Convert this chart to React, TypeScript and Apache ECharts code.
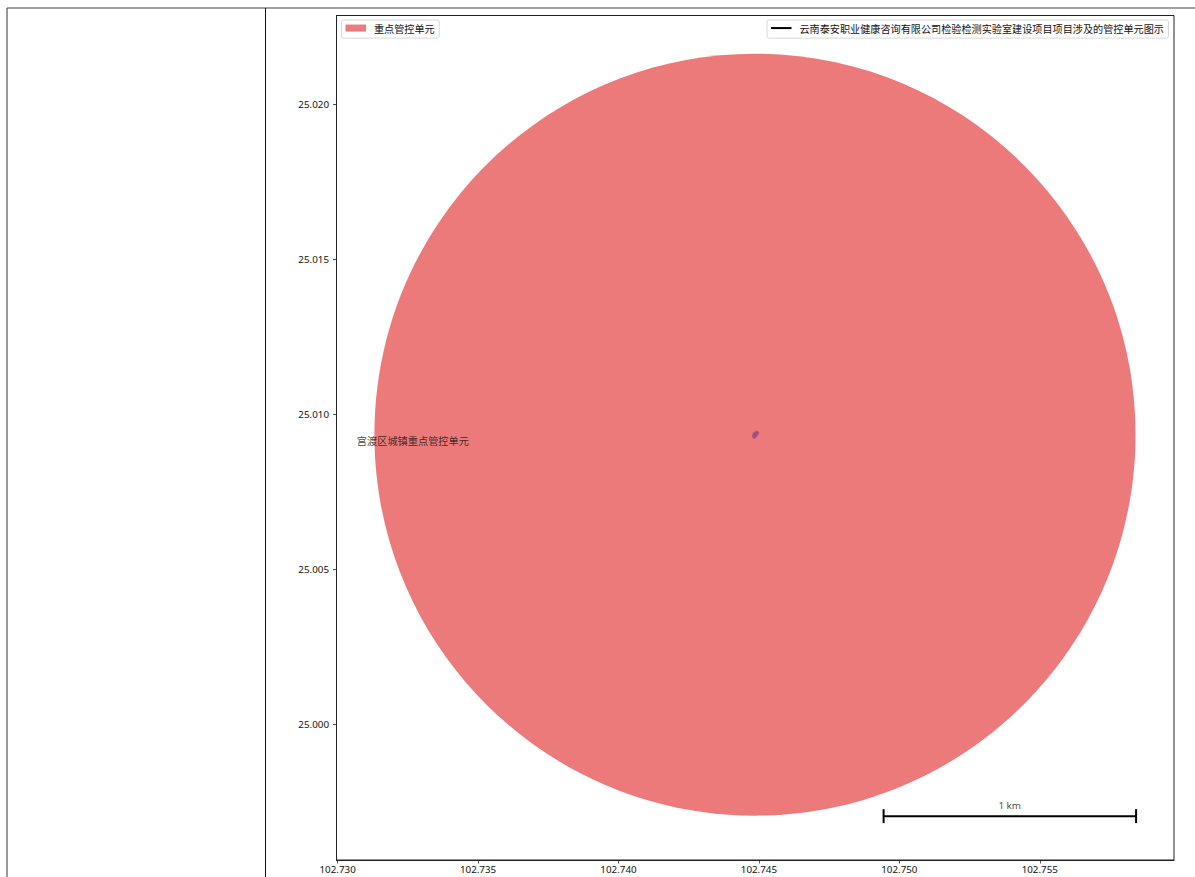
import React, { useEffect, useRef } from "react";
import * as echarts from "echarts";

const FONT = '"Noto Sans CJK SC", "Noto Sans", sans-serif';
const NUM_FONT = '"Noto Sans", "Noto Sans CJK SC", sans-serif';

const lonTicks = [102.73, 102.735, 102.74, 102.745, 102.75, 102.755];
const latTicks = [25.0, 25.005, 25.01, 25.015, 25.02];
const lonRange = [102.72996, 102.75978];
const latRange = [24.99563, 25.02287];

const unitName = "重点管控单元";
const projectName = "云南泰安职业健康咨询有限公司检验检测实验室建设项目项目涉及的管控单元图示";
const unitLabel = "宫渡区城镇重点管控单元";
const scaleLabel = "1 km";

// centre lon, centre lat, lon radius, lat radius
const unitCircle = [[102.74486, 25.00935, 0.01355, 0.01229]];
const projectOutline = [
  [102.744765, 25.00928],
  [102.744801, 25.009409],
  [102.744922, 25.009464],
  [102.745003, 25.009422],
  [102.744943, 25.009312],
  [102.744836, 25.009215],
];
const unitLabelPoint = [[102.73268, 25.00917]];
// x1, y1, x2, y2
const scaleBarSegments = [
  [102.74944, 24.99704, 102.75843, 24.99704],
  [102.74944, 24.99682, 102.74944, 24.99727],
  [102.75843, 24.99682, 102.75843, 24.99727],
];
const scaleLabelPoint = [[102.75393, 24.9974]];

const UNIT_COLOR = "#ec7a7a";
const AXIS_COLOR = "#222";
const TEXT_COLOR = "#111";

export default function App() {
  const ref = useRef<HTMLDivElement>(null);
  useEffect(() => {
    document.body.style.margin = "0";
    const chart = echarts.init(ref.current!, undefined, { renderer: "svg" });
    const legendBase = {
      top: 20,
      orient: "horizontal",
      padding: [3, 4.5, 5, 4],
      backgroundColor: "#fff",
      borderColor: "#d8d8d8",
      borderWidth: 1,
      borderRadius: 2,
      itemWidth: 20.5,
      selectedMode: false,
      textStyle: { fontFamily: FONT, fontSize: 10.15, color: TEXT_COLOR, padding: [0, 0, 3, 3] },
    };
    chart.setOption({
      animation: false,
      backgroundColor: "#fff",
      grid: {
        show: true,
        left: 336.5,
        top: 15.5,
        width: 837.5,
        height: 844.5,
        borderColor: AXIS_COLOR,
        borderWidth: 1,
        backgroundColor: "transparent",
      },
      legend: [
        {
          ...legendBase,
          left: 341.5,
          itemHeight: 7,
          data: [{ name: unitName, icon: "rect", itemStyle: { color: UNIT_COLOR } }],
        },
        {
          ...legendBase,
          left: 767,
          itemHeight: 2,
          data: [{ name: projectName, icon: "rect", itemStyle: { color: "#000" } }],
        },
      ],
      xAxis: {
        type: "value",
        min: lonRange[0],
        max: lonRange[1],
        splitLine: { show: false },
        axisLine: { show: true, onZero: false, lineStyle: { color: AXIS_COLOR, width: 1 } },
        axisTick: { show: true, length: 3.5, customValues: lonTicks, lineStyle: { color: AXIS_COLOR, width: 0.8 } },
        axisLabel: {
          customValues: lonTicks,
          margin: 4.5,
          fontFamily: NUM_FONT,
          fontSize: 9.8,
          color: TEXT_COLOR,
          formatter: (v: number) => v.toFixed(3),
        },
      },
      yAxis: {
        type: "value",
        min: latRange[0],
        max: latRange[1],
        splitLine: { show: false },
        axisLine: { show: true, onZero: false, lineStyle: { color: AXIS_COLOR, width: 1 } },
        axisTick: { show: true, length: 3.5, customValues: latTicks, lineStyle: { color: AXIS_COLOR, width: 0.8 } },
        axisLabel: {
          customValues: latTicks,
          margin: 7.5,
          fontFamily: NUM_FONT,
          fontSize: 9.8,
          color: TEXT_COLOR,
          formatter: (v: number) => v.toFixed(3),
        },
      },
      series: [
        {
          type: "custom",
          name: unitName,
          data: unitCircle,
          z: 2,
          encode: { x: 0, y: 1 },
          renderItem: (_p: any, api: any) => {
            const c = api.coord([api.value(0), api.value(1)]);
            const e = api.coord([api.value(0) + api.value(2), api.value(1) + api.value(3)]);
            return {
              type: "ellipse",
              shape: { cx: c[0], cy: c[1], rx: Math.abs(e[0] - c[0]), ry: Math.abs(e[1] - c[1]) },
              style: { fill: UNIT_COLOR },
            };
          },
        },
        {
          type: "custom",
          name: projectName,
          data: [projectOutline.flat()],
          z: 3,
          renderItem: (_p: any, api: any) => {
            const pts = projectOutline.map((p) => api.coord(p));
            return {
              type: "polygon",
              shape: { points: pts },
              style: { fill: "#9a4f85", stroke: "#a85a85", lineWidth: 1, lineJoin: "round" },
            };
          },
        },
        {
          type: "scatter",
          data: unitLabelPoint,
          symbolSize: 0,
          z: 5,
          label: {
            show: true,
            position: "inside",
            formatter: unitLabel,
            fontFamily: FONT,
            fontSize: 10.2,
            color: TEXT_COLOR,
          },
        },
        {
          type: "custom",
          data: scaleBarSegments,
          z: 4,
          renderItem: (_p: any, api: any) => {
            const a = api.coord([api.value(0), api.value(1)]);
            const b = api.coord([api.value(2), api.value(3)]);
            return {
              type: "line",
              shape: { x1: a[0], y1: a[1], x2: b[0], y2: b[1] },
              style: { stroke: "#000", lineWidth: 2 },
            };
          },
        },
        {
          type: "scatter",
          data: scaleLabelPoint,
          symbolSize: 0,
          z: 5,
          label: {
            show: true,
            position: "inside",
            formatter: scaleLabel,
            fontFamily: NUM_FONT,
            fontSize: 9.8,
            color: TEXT_COLOR,
          },
        },
      ],
      graphic: [
        { type: "line", shape: { x1: 7, y1: 8, x2: 1195, y2: 8 }, style: { stroke: "#444", lineWidth: 1.2 } },
        { type: "line", shape: { x1: 7, y1: 8, x2: 7, y2: 877 }, style: { stroke: "#555", lineWidth: 1.2 } },
        { type: "line", shape: { x1: 265.5, y1: 8, x2: 265.5, y2: 877 }, style: { stroke: "#111", lineWidth: 1 } },
      ],
    });
    return () => chart.dispose();
  }, []);
  return (
    <div
      ref={ref}
      style={{ position: "fixed", left: 0, top: 0, width: 1195, height: 877, overflow: "hidden" }}
    />
  );
}
